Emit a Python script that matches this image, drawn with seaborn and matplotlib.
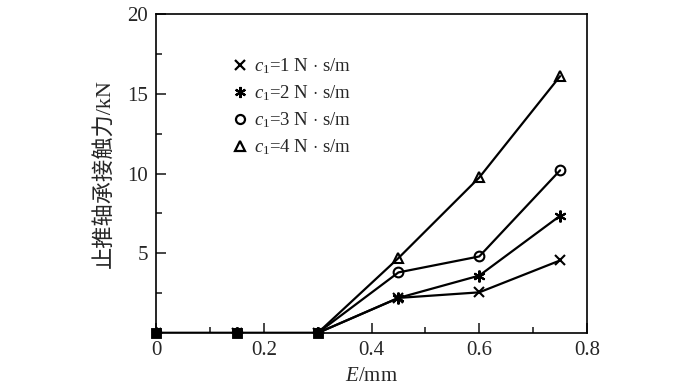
import matplotlib
matplotlib.use('Agg')
import matplotlib.pyplot as plt
import matplotlib.ticker as mticker
import pandas as pd
import seaborn as sns

# eccentricity E (mm)
ecc = [0.0, 0.15, 0.3, 0.45, 0.6, 0.75]
# contact force (kN) for each damping coefficient c1
force_c1 = [0.0, 0.0, 0.0, 2.2, 2.55, 4.55]
force_c2 = [0.0, 0.0, 0.0, 2.2, 3.6, 7.35]
force_c3 = [0.0, 0.0, 0.0, 3.8, 4.8, 10.2]
force_c4 = [0.0, 0.0, 0.0, 4.7, 9.75, 16.1]
series_labels = [r'$c_1$=1 N $\cdot$ s/m', r'$c_1$=2 N $\cdot$ s/m',
                 r'$c_1$=3 N $\cdot$ s/m', r'$c_1$=4 N $\cdot$ s/m']
series_markers = ['x', (6, 2, 0), 'o', '^']

sns.set_style('ticks')
plt.rcParams['font.family'] = ['Liberation Serif', 'Noto Sans CJK SC', 'DejaVu Sans']
plt.rcParams['mathtext.fontset'] = 'custom'
plt.rcParams['mathtext.rm'] = 'Liberation Serif'
plt.rcParams['mathtext.it'] = 'Liberation Serif:italic'

rows = []
for lab, vals in zip(series_labels, [force_c1, force_c2, force_c3, force_c4]):
    for e, f in zip(ecc, vals):
        rows.append({'E': e, 'F': f, 'series': lab})
df = pd.DataFrame(rows)

fig = plt.figure(figsize=(7, 3.87), dpi=100)
ax = fig.add_axes([0.2229, 0.1395, 0.6157, 0.8243])

for lab, m in zip(series_labels, series_markers):
    sub = df[df['series'] == lab]
    ms = 8.5 if m == (6, 2, 0) else 7
    sns.lineplot(data=sub, x='E', y='F', color='black', marker=m,
                 markersize=ms, markeredgewidth=1.5, markerfacecolor='none',
                 markeredgecolor='black', linewidth=1.6, ax=ax, legend=False)

# points where every series is zero overlap into a solid block
zero_df = df.groupby('E')['F'].max().reset_index()
zero_df = zero_df[zero_df['F'] == 0]
sns.scatterplot(data=zero_df, x='E', y='F', marker='s', s=60, color='black',
                edgecolor='black', ax=ax, zorder=5, legend=False, clip_on=False)

# legend with markers only
for lab, m in zip(series_labels, series_markers):
    ms = 8 if m == (6, 2, 0) else 6.5
    ax.plot([], [], linestyle='none', marker=m, markersize=ms,
            markeredgewidth=1.6, markerfacecolor='none',
            markeredgecolor='black', label=lab)
ax.legend(loc='upper left', bbox_to_anchor=(0.155, 0.89), frameon=False,
          fontsize=13.5, handletextpad=0.25, labelspacing=0.39,
          handlelength=1.0, borderaxespad=0)

ax.set_xlim(0, 0.8)
ax.set_ylim(0, 20)
ax.xaxis.set_major_locator(mticker.FixedLocator([0, 0.2, 0.4, 0.6, 0.8]))
ax.xaxis.set_major_formatter(mticker.FixedFormatter(['0', '0.2', '0.4', '0.6', '0.8']))
ax.xaxis.set_minor_locator(mticker.MultipleLocator(0.1))
ax.yaxis.set_major_locator(mticker.FixedLocator([5, 10, 15, 20]))
ax.yaxis.set_minor_locator(mticker.MultipleLocator(2.5))
ax.tick_params(which='both', direction='in', top=False, right=False,
               labelsize=15, width=1.2, pad=6)
ax.tick_params(which='major', length=7)
ax.tick_params(which='minor', length=4)
for sp in ax.spines.values():
    sp.set_linewidth(1.2)
    sp.set_color('black')

ax.set_xlabel(r'$E$/mm', fontsize=15, labelpad=5)
ax.set_ylabel('止推轴承接触力/kN', fontsize=16, labelpad=8)

fig.savefig('out.png', dpi=100)
